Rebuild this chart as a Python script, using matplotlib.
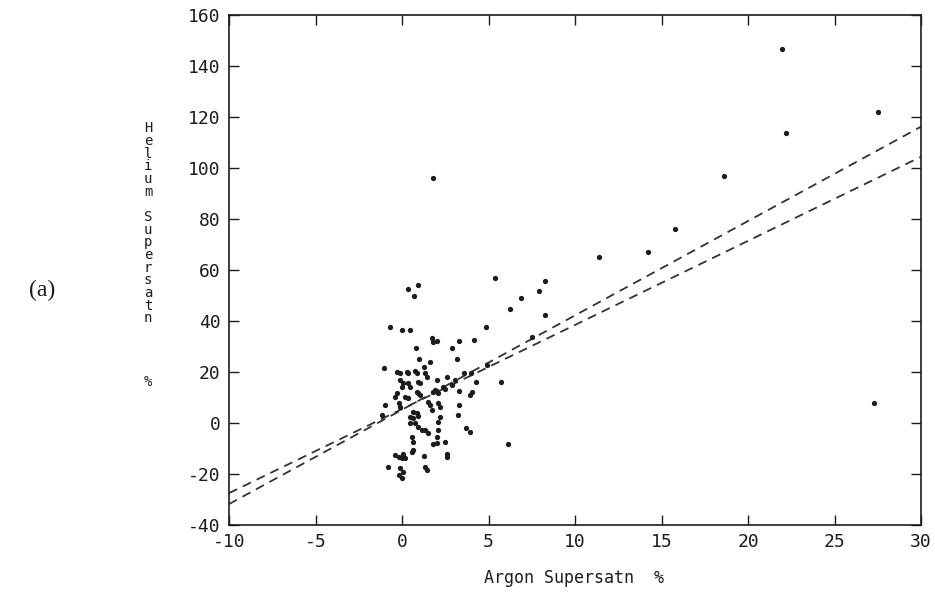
import matplotlib.pyplot as plt

plt.rcParams['axes.unicode_minus'] = False

# argon vs helium supersaturation (%)
argon = [21.95, 27.5, 22.2, 1.8, 18.6, 15.8, 27.3,
         14.2, 11.4, 5.4, 8.27, 7.9, 6.9, 6.26, 8.27, 4.87, 3.3, 4.16, 2.87, 3.16,
         7.5, 4.9, 3.6, 4.0, 4.26, 5.7, 3.3, 4.06, 3.93,
         0.33, 0.9, 0.71, -0.71, -0.02, 0.46, 1.72, 2.0, 1.81,
         0.8, 1.0, 1.6, -1.04,
         -0.3, -0.1, 0.27, 0.37, 0.75, 0.85, 1.29, 1.33, 1.43, 2.6,
         -0.1, 0.08, 0.0, 0.37, 0.46, 0.94, 1.04, 2.0, 3.06,
         2.39, 2.49, 2.87, 1.81, 1.9, 0.94, 1.04, 0.85, 2.1, -0.3, -0.4, 0.37, 0.17,
         -0.98, -0.2, -0.1, 1.52, 1.62, 2.1, 2.2, 3.3,
         -1.17, 0.65, 0.85, 0.94, 1.72, 3.25,
         0.46, 0.65, 0.75, 0.46, 2.2, 2.1,
         0.94, 1.14, 1.33, 1.52, 2.1, 0.56, 0.65, 2.0, 1.81, 2.0, 2.49,
         0.65, 0.56, -0.4, -0.2, 0.0, 0.17, 0.08, 1.29, 2.6, 2.6,
         -0.8, -0.1, 1.33, 1.43, 0.08, -0.2, 0.0,
         3.7, 3.93, 6.15]
helium = [146.7, 122.0, 113.8, 96.2, 97.0, 76.2, 8.0,
          66.9, 65.1, 57.0, 55.7, 51.8, 48.9, 44.6, 42.4, 37.8, 32.2, 32.5, 29.5, 25.0,
          33.6, 22.7, 19.5, 19.7, 16.2, 16.2, 12.7, 12.3, 11.0,
          52.4, 54.0, 49.8, 37.6, 36.3, 36.5, 33.2, 32.3, 31.9,
          29.3, 25.2, 24.0, 21.4,
          20.1, 19.5, 20.1, 19.5, 20.5, 19.5, 22.1, 19.5, 18.2, 18.2,
          16.9, 15.6, 14.2, 15.6, 14.2, 16.2, 15.6, 16.9, 16.9,
          14.2, 13.2, 14.9, 12.3, 12.9, 11.6, 11.0, 12.3, 11.6, 11.6, 10.3, 9.7, 10.3,
          7.1, 7.7, 6.4, 8.4, 7.1, 7.7, 6.4, 7.0,
          3.1, 4.4, 3.8, 2.7, 5.1, 3.1,
          2.5, 1.8, -0.1, -0.1, 2.5, 0.5,
          -1.4, -2.7, -2.7, -4.0, -2.7, -5.4, -7.3, -5.4, -8.4, -8.0, -7.3,
          -10.6, -11.3, -12.5, -13.2, -13.6, -13.8, -12.3, -12.8, -12.3, -13.2,
          -17.1, -17.5, -17.1, -18.4, -19.3, -20.4, -21.4,
          -2.1, -3.4, -8.4]

# the two fitted lines, given at the ends of the x range
fit_x = [-10, 30]
fit_1 = [-31.8, 116.2]
fit_2 = [-27.5, 104.4]

xticks = [-10, -5, 0, 5, 10, 15, 20, 25, 30]
yticks = [-40, -20, 0, 20, 40, 60, 80, 100, 120, 140, 160]

ink = '#1c1c1c'
mono = 'DejaVu Sans Mono'

fig = plt.figure(figsize=(9.35, 5.98), dpi=100)
ax = fig.add_axes([229 / 935, 73 / 598, 692 / 935, 510 / 598])

ax.plot(fit_x, fit_1, color='#333333', lw=1.3, linestyle=(0, (5, 3.5)))
ax.plot(fit_x, fit_2, color='#333333', lw=1.3, linestyle=(0, (5, 3.5)))
ax.plot(argon, helium, 'o', color=ink, ms=3.8, mec='none')

ax.set_xlim(-10, 30)
ax.set_ylim(-40, 160)
ax.set_xticks(xticks)
ax.set_yticks(yticks)
ax.tick_params(direction='in', length=7, width=1, color=ink,
               top=True, right=True, labelsize=13, labelcolor=ink, pad=6)
for lab in ax.get_xticklabels() + ax.get_yticklabels():
    lab.set_family(mono)
for s in ax.spines.values():
    s.set_color(ink)
    s.set_linewidth(1.2)

fig.text(574 / 935, 1 - 578 / 598, 'Argon Supersatn  %', family=mono,
         fontsize=12, color=ink, ha='center', va='center')

# y label is printed one letter per line
ylab = 'Helium Supersatn    %'
fig.text(148 / 935, 1 - 255 / 598, '\n'.join(ylab), family=mono,
         fontsize=10, color=ink, ha='center', va='center',
         multialignment='center', linespacing=0.88)

fig.text(42 / 935, 1 - 290 / 598, '(a)', family='Liberation Serif',
         fontsize=17, color=ink, ha='center', va='center')

fig.savefig('out.png', dpi=100)
